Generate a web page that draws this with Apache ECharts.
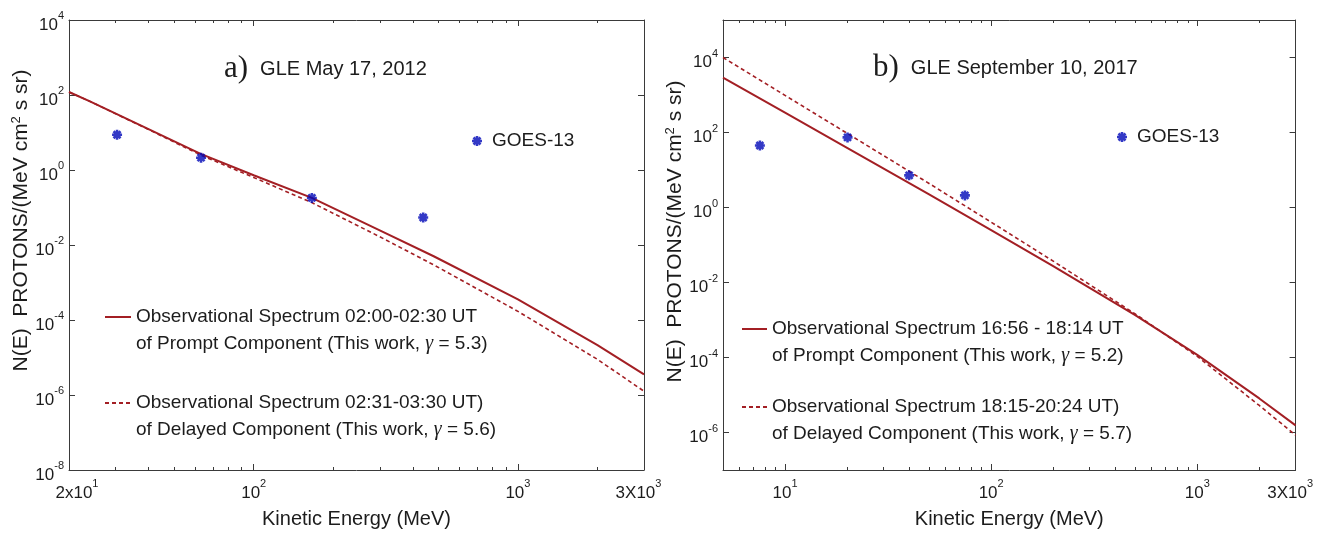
<!DOCTYPE html>
<html>
<head>
<meta charset="utf-8">
<title>GLE proton spectra</title>
<script src="https://cdn.jsdelivr.net/npm/echarts@6/dist/echarts.min.js"></script>
<style>
  html, body { margin: 0; padding: 0; background: #ffffff; }
  #chart { width: 1327px; height: 534px; }
</style>
</head>
<body>
<div id="chart"></div>
<script>
// ---------- GLE May 17, 2012 ----------
const energyMay2012   = [20, 24, 40, 63, 100, 166, 300, 480, 1000, 2000, 3000];
const promptMay2012   = [120, 67.6, 12.3, 2.69, 0.724, 0.180, 0.0245, 0.00501, 3.55e-4, 2.14e-5, 3.55e-6];
const delayedMay2012  = [120, 67.6, 12.0, 2.51, 0.631, 0.135, 0.0166, 0.00295, 1.70e-4, 8.91e-6, 1.26e-6];
const goesEnergyMay2012 = [30.4, 63.2, 166, 438];
const goesFluxMay2012   = [8.7, 2.13, 0.18, 0.054];

// ---------- GLE September 10, 2017 ----------
const energySep2017   = [5, 10, 20, 50, 100, 200, 500, 1000, 2000, 3000];
const promptSep2017   = [2900, 339, 38.9, 2.24, 0.251, 0.0275, 1.35e-3, 1.17e-4, 8.1e-6, 1.55e-6];
const delayedSep2017  = [10000, 977, 95.5, 4.37, 0.407, 0.0372, 1.45e-3, 1.07e-4, 5.25e-6, 8.5e-7];
const goesEnergySep2017 = [7.55, 20.1, 40, 74.6];
const goesFluxSep2017   = [45, 74, 7.2, 2.1];

// ---------- series names ----------
const goesName = 'GOES-13';
const promptNameMay2012  = 'Observational Spectrum 02:00-02:30 UT\nof Prompt Component (This work, γ = 5.3)';
const delayedNameMay2012 = 'Observational Spectrum 02:31-03:30 UT)\nof Delayed Component (This work, γ = 5.6)';
const promptNameSep2017  = 'Observational Spectrum 16:56 - 18:14 UT\nof Prompt Component (This work, γ = 5.2)';
const delayedNameSep2017 = 'Observational Spectrum 18:15-20:24 UT)\nof Delayed Component (This work, γ = 5.7)';
const panelTitleMay2012 = ['a)', 'GLE May 17, 2012'];
const panelTitleSep2017 = ['b)', 'GLE September 10, 2017'];
const xAxisName = 'Kinetic Energy (MeV)';
const yAxisName = 'N(E)  PROTONS/(MeV cm{s|2} s sr)';

// ---------- axes: ranges, ticks, tick labels ----------
const xRangeMay2012 = [20, 3000];
const xMajorMay2012 = [100, 1000];
const xMinorMay2012 = [30, 40, 50, 60, 70, 80, 90, 200, 300, 400, 500, 600, 700, 800, 900, 2000];
const xLabelValuesMay2012 = [20, 100, 1000, 3000];
const xLabelTextMay2012   = ['2x10^1', '10^2', '10^3', '3X10^3'];
const yRangeMay2012 = [1e-8, 1e4];
const yTicksMay2012 = [1e-8, 1e-6, 1e-4, 1e-2, 1, 1e2, 1e4];
const yLabelTextMay2012 = ['10^-8', '10^-6', '10^-4', '10^-2', '10^0', '10^2', '10^4'];

const xRangeSep2017 = [5, 3000];
const xMajorSep2017 = [10, 100, 1000];
const xMinorSep2017 = [6, 7, 8, 9, 20, 30, 40, 50, 60, 70, 80, 90, 200, 300, 400, 500, 600, 700, 800, 900, 2000];
const xLabelValuesSep2017 = [10, 100, 1000, 3000];
const xLabelTextSep2017   = ['10^1', '10^2', '10^3', '3X10^3'];
const yRangeSep2017 = [1e-7, 1e5];
const yTicksSep2017 = [1e-6, 1e-4, 1e-2, 1, 1e2, 1e4];
const yLabelTextSep2017 = ['10^-6', '10^-4', '10^-2', '10^0', '10^2', '10^4'];

// ---------- styling ----------
const SANS = '"Liberation Sans", Arial, Helvetica, sans-serif';
const SERIF = '"Liberation Serif", "Times New Roman", serif';
const INK = '#1c1c1c';
const AXIS = '#3a3a3a';
const RED = '#a31f24';
const BLUE = '#0008b8';
// eight-armed asterisk marker
const STAR = 'path://M3.7,0H6.3V10H3.7Z M0,3.7H10V6.3H0Z M2.419,0.581L9.419,7.581L7.581,9.419L0.581,2.419Z M9.419,2.419L2.419,9.419L0.581,7.581L7.581,0.581Z';

const baseTok = { fontFamily: SANS, fontSize: 17, lineHeight: 18, color: INK };
const supTok  = { fontFamily: SANS, fontSize: 11, lineHeight: 12, color: INK };
const tickRich = {
  b:  Object.assign({}, baseTok, { padding: [10, 0, 0, 0] }),
  s:  Object.assign({}, supTok,  { padding: [0, 0, 8, 0] }),
  lb: Object.assign({}, baseTok, { padding: [10, 0, 0, 16] }),
  ls: Object.assign({}, supTok,  { padding: [0, 0, 8, 0] }),
  rb: Object.assign({}, baseTok, { padding: [10, 0, 0, 0] }),
  rs: Object.assign({}, supTok,  { padding: [0, 11, 8, 0] })
};

// "10^-6" -> rich text with a raised exponent
function powText(text, pre) {
  const parts = text.split('^');
  return '{' + pre + 'b|' + parts[0] + '}{' + pre + 's|' + parts[1] + '}';
}
function labelFormatter(values, texts, range) {
  return function (v) {
    const i = values.findIndex(function (x) { return Math.abs(Math.log10(x) - Math.log10(v)) < 1e-6; });
    if (i < 0) return '';
    let pre = '';
    if (Math.abs(Math.log10(v) - Math.log10(range[0])) < 1e-6) pre = 'l';
    if (Math.abs(Math.log10(v) - Math.log10(range[1])) < 1e-6) pre = 'r';
    return powText(texts[i], pre);
  };
}

const pairs = (xs, ys) => xs.map((x, i) => [x, ys[i]]);

function xAxesFor(grid, range, major, minor, labelValues, labelText) {
  const common = {
    type: 'log', logBase: 10, gridIndex: grid, min: range[0], max: range[1],
    splitLine: { show: false }, minorTick: { show: false }, minorSplitLine: { show: false }
  };
  const line = { show: true, onZero: false, lineStyle: { color: AXIS, width: 1 } };
  return [
    Object.assign({}, common, {
      position: 'bottom', axisLine: line,
      axisTick: { show: true, inside: true, length: 6, customValues: major, lineStyle: { color: AXIS } },
      axisLabel: {
        show: true, customValues: labelValues, margin: 9,
        formatter: labelFormatter(labelValues, labelText, range), rich: tickRich
      },
      name: xAxisName, nameLocation: 'middle', nameGap: 39,
      nameTextStyle: { fontFamily: SANS, fontSize: 20, color: INK }
    }),
    Object.assign({}, common, {
      position: 'bottom', axisLine: { show: false },
      axisTick: { show: true, inside: true, length: 3, customValues: minor, lineStyle: { color: AXIS } },
      axisLabel: { show: false }
    }),
    Object.assign({}, common, {
      position: 'top', axisLine: line,
      axisTick: { show: true, inside: true, length: 6, customValues: major, lineStyle: { color: AXIS } },
      axisLabel: { show: false }
    }),
    Object.assign({}, common, {
      position: 'top', axisLine: { show: false },
      axisTick: { show: true, inside: true, length: 3, customValues: minor, lineStyle: { color: AXIS } },
      axisLabel: { show: false }
    })
  ];
}

function yAxesFor(grid, range, ticks, labelText, nameShift) {
  const common = {
    type: 'log', logBase: 10, gridIndex: grid, min: range[0], max: range[1],
    splitLine: { show: false }, minorTick: { show: false }, minorSplitLine: { show: false }
  };
  const line = { show: true, onZero: false, lineStyle: { color: AXIS, width: 1 } };
  return [
    Object.assign({}, common, {
      position: 'left', axisLine: line,
      axisTick: { show: true, inside: true, length: 6, customValues: ticks, lineStyle: { color: AXIS } },
      axisLabel: {
        show: true, customValues: ticks, margin: 5,
        formatter: labelFormatter(ticks, labelText, [1e-99, 1e99]), rich: tickRich
      },
      name: yAxisName, nameLocation: 'middle', nameGap: 29,
      nameTextStyle: {
        fontFamily: SANS, fontSize: 21, color: INK, padding: [0, 0, 0, nameShift],
        rich: { s: { fontFamily: SANS, fontSize: 13, color: INK, padding: [0, 0, 9, 0] } }
      }
    }),
    Object.assign({}, common, {
      position: 'right', axisLine: line,
      axisTick: { show: true, inside: true, length: 6, customValues: ticks, lineStyle: { color: AXIS } },
      axisLabel: { show: false }
    })
  ];
}

const titleRich = {
  p: { fontFamily: SERIF, fontSize: 31, fontWeight: 'normal', lineHeight: 36, color: INK, padding: [0, 12, 0, 0] },
  t: { fontFamily: SANS, fontSize: 20, fontWeight: 'normal', lineHeight: 36, color: INK }
};

const lineLegendText = {
  fontFamily: SANS, fontSize: 19, lineHeight: 27, color: INK, padding: [27, 0, 0, 0],
  rich: { g: { fontFamily: SERIF, fontStyle: 'italic', fontSize: 20, lineHeight: 27, color: INK } }
};
function lineLegend(name, left, top, width) {
  return {
    data: [name], left: left, top: top, padding: 0, orient: 'vertical',
    itemWidth: width, itemHeight: 14, selectedMode: false,
    itemStyle: { opacity: 0 },
    formatter: n => n.replace('γ', '{g|γ}'),
    textStyle: lineLegendText
  };
}
function goesLegend(left, top) {
  return {
    data: [goesName], left: left, top: top, padding: 0,
    itemWidth: 20, itemHeight: 10, selectedMode: false,
    textStyle: { fontFamily: SANS, fontSize: 19, lineHeight: 23, color: INK }
  };
}

const option = {
  animation: false,
  backgroundColor: '#ffffff',
  textStyle: { fontFamily: SANS, color: INK },
  title: [
    { text: '{p|' + panelTitleMay2012[0] + '}{t|' + panelTitleMay2012[1] + '}', left: 224, top: 51, padding: 0,
      textStyle: { fontWeight: 'normal', rich: titleRich } },
    { text: '{p|' + panelTitleSep2017[0] + '}{t|' + panelTitleSep2017[1] + '}', left: 873, top: 50, padding: 0,
      textStyle: { fontWeight: 'normal', rich: titleRich } }
  ],
  legend: [
    goesLegend(472, 129.5),
    goesLegend(1117, 125.5),
    lineLegend(promptNameMay2012, 104, 276.5, 26),
    lineLegend(delayedNameMay2012, 104, 362.5, 26),
    lineLegend(promptNameSep2017, 741, 288.5, 25),
    lineLegend(delayedNameSep2017, 741, 366.5, 25)
  ],
  grid: [
    { left: 69, top: 20, width: 575, height: 451 },
    { left: 723, top: 20, width: 575, height: 452 }
  ],
  xAxis: [].concat(
    xAxesFor(0, xRangeMay2012, xMajorMay2012, xMinorMay2012, xLabelValuesMay2012, xLabelTextMay2012),
    xAxesFor(1, xRangeSep2017, xMajorSep2017, xMinorSep2017, xLabelValuesSep2017, xLabelTextSep2017)
  ),
  yAxis: [].concat(
    yAxesFor(0, yRangeMay2012, yTicksMay2012, yLabelTextMay2012, 49),
    yAxesFor(1, yRangeSep2017, yTicksSep2017, yLabelTextSep2017, 27)
  ),
  series: [
    { type: 'line', name: delayedNameMay2012, xAxisIndex: 0, yAxisIndex: 0, data: pairs(energyMay2012, delayedMay2012),
      symbol: 'none', silent: true, itemStyle: { color: RED },
      lineStyle: { color: RED, width: 1.6, type: [4, 3] } },
    { type: 'line', name: promptNameMay2012, xAxisIndex: 0, yAxisIndex: 0, data: pairs(energyMay2012, promptMay2012),
      symbol: 'none', silent: true, itemStyle: { color: RED },
      lineStyle: { color: RED, width: 2 } },
    { type: 'scatter', name: goesName, xAxisIndex: 0, yAxisIndex: 0, data: pairs(goesEnergyMay2012, goesFluxMay2012),
      symbol: STAR, symbolSize: 10, silent: true, itemStyle: { color: BLUE }, z: 5 },

    { type: 'line', name: delayedNameSep2017, xAxisIndex: 4, yAxisIndex: 2, data: pairs(energySep2017, delayedSep2017),
      symbol: 'none', silent: true, itemStyle: { color: RED },
      lineStyle: { color: RED, width: 1.6, type: [4, 3] } },
    { type: 'line', name: promptNameSep2017, xAxisIndex: 4, yAxisIndex: 2, data: pairs(energySep2017, promptSep2017),
      symbol: 'none', silent: true, itemStyle: { color: RED },
      lineStyle: { color: RED, width: 2 } },
    { type: 'scatter', name: goesName, xAxisIndex: 4, yAxisIndex: 2, data: pairs(goesEnergySep2017, goesFluxSep2017),
      symbol: STAR, symbolSize: 10, silent: true, itemStyle: { color: BLUE }, z: 5 }
  ]
};

const chart = echarts.init(document.getElementById('chart'), null, { renderer: 'canvas' });
chart.setOption(option);
</script>
</body>
</html>
